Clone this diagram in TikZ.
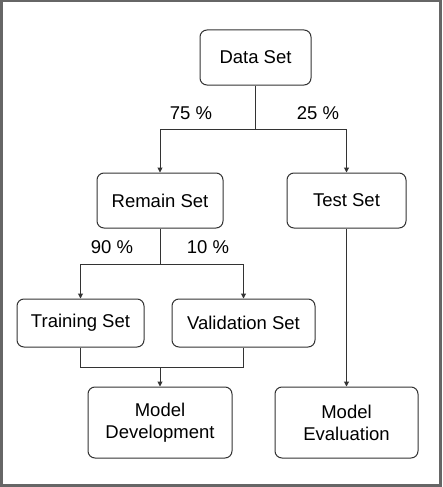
\documentclass[tikz,border=0pt]{standalone}
\usepackage{fontspec}
\setmainfont{Liberation Sans}
\usetikzlibrary{arrows.meta}

\tikzset{
    setbox/.style={draw=black!80, rounded corners=7pt, line width=1pt, align=center, inner sep=0pt},
    link/.style={draw=black!80, line width=1pt},
    linkarrow/.style={link, -{Triangle[length=5pt,width=5pt]}},
    share/.style={inner sep=0pt}
}

\begin{document}
\begin{tikzpicture}[x=1pt, y=-1pt]
    \fontsize{18.5}{22}\selectfont
    \useasboundingbox (0,0) rectangle (442,487);
    \draw[black!60, line width=2.5pt] (1.25,1.25) rectangle (440.5,485.5);

    % boxes
    \node[setbox, minimum width=111pt, minimum height=55pt] (data) at (255.5,57.5) {Data Set};
    \node[setbox, minimum width=126pt, minimum height=55pt] (remain) at (160,200.5) {Remain Set};
    \node[setbox, minimum width=119pt, minimum height=55pt] (test) at (346.5,200.5) {Test Set};
    \node[setbox, minimum width=127pt, minimum height=48pt] (train) at (80.5,323) {Training Set};
    \node[setbox, minimum width=143pt, minimum height=48pt] (valid) at (243.5,323) {Validation Set};
    \node[setbox, minimum width=144pt, minimum height=71pt] (dev) at (160,422.5) {Model\\Development};
    \node[setbox, minimum width=143pt, minimum height=71pt] (eval) at (346.5,422.5) {Model\\Evaluation};

    % percentages
    \node[share] (p75) at (191,113) {75 \%};
    \node[share] (p25) at (318,113) {25 \%};
    \node[share] (p90) at (112,247) {90 \%};
    \node[share] (p10) at (208,247) {10 \%};

    % connectors
    \coordinate (split1) at (255.5,129);
    \coordinate (split2) at (160,264);
    \coordinate (join) at (160,367);
    \draw[link] (data.south) -- (split1);
    \draw[linkarrow] (split1) -| (remain.north);
    \draw[linkarrow] (split1) -| (test.north);
    \draw[link] (remain.south) -- (split2);
    \draw[linkarrow] (split2) -| (train.north);
    \draw[linkarrow] (split2) -| (valid.north);
    \draw[link] (train.south) |- (join);
    \draw[link] (valid.south) |- (join);
    \draw[linkarrow] (join) -- (dev.north);
    \draw[linkarrow] (test.south) -- (eval.north);
\end{tikzpicture}
\end{document}
